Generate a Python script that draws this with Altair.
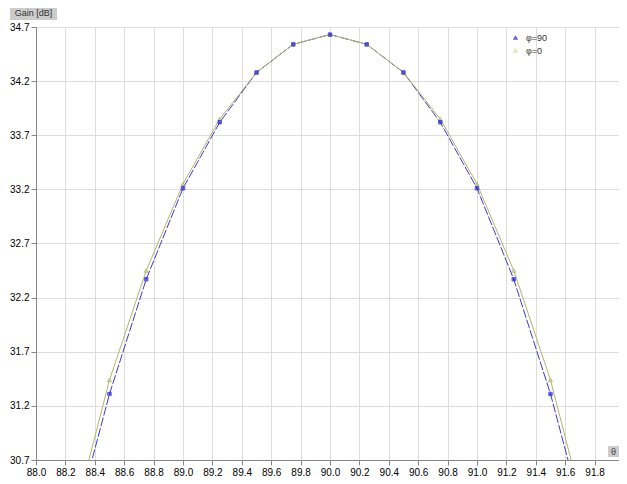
import altair as alt
import pandas as pd

angles = [88.25, 88.5, 88.75, 89.0, 89.25, 89.5, 89.75, 90.0, 90.25, 90.5, 90.75, 91.0, 91.25, 91.5, 91.75]
gain_phi90 = [30.03, 31.31, 32.37, 33.21, 33.82, 34.28, 34.54, 34.63, 34.54, 34.28, 33.82, 33.21, 32.37, 31.31, 30.03]
gain_phi0 = [30.12, 31.44, 32.45, 33.25, 33.85, 34.28, 34.54, 34.63, 34.54, 34.28, 33.85, 33.25, 32.45, 31.44, 30.12]
series_names = ["φ=90", "φ=0"]
x_ticks = [round(88.0 + 0.2 * i, 1) for i in range(21)]
y_ticks = [30.7, 31.2, 31.7, 32.2, 32.7, 33.2, 33.7, 34.2, 34.7]

rows = []
for a, g in zip(angles, gain_phi90):
    rows.append({"angle": a, "gain": g, "series": series_names[0]})
for a, g in zip(angles, gain_phi0):
    rows.append({"angle": a, "gain": g, "series": series_names[1]})
df = pd.DataFrame(rows)

W, H = 583, 433
BLUE_LINE, OLIVE_LINE = "#3a3ad0", "#b4b46a"
BLUE_PT, OLIVE_PT = "#2020d8", "#a8a860"

x = alt.X("angle:Q", scale=alt.Scale(domain=[88.0, 91.966], nice=False, zero=False),
          axis=alt.Axis(values=x_ticks, format=".1f", title=None, labelFlush=False))
y = alt.Y("gain:Q", scale=alt.Scale(domain=[30.7, 34.7], nice=False, zero=False),
          axis=alt.Axis(values=y_ticks, format=".1f", title=None))

base = alt.Chart(df)

line0 = base.transform_filter(alt.datum.series == series_names[1]).mark_line(
    clip=True, strokeWidth=1, color=OLIVE_LINE).encode(x=x, y=y)
line90 = base.transform_filter(alt.datum.series == series_names[0]).mark_line(
    clip=True, strokeWidth=1, color=BLUE_LINE, strokeDash=[9, 2]).encode(x=x, y=y)

fill_enc = alt.Fill("series:N", scale=alt.Scale(domain=series_names, range=[BLUE_PT, "#d6d68e"]),
                    legend=alt.Legend(title=None, orient="none", legendX=475, legendY=6,
                                      symbolType="triangle-up", symbolSize=30, symbolStrokeWidth=0,
                                      labelFontSize=9, labelFont="Liberation Sans", labelColor="#333",
                                      labelOffset=6, rowPadding=3))

pts0 = base.transform_filter(alt.datum.series == series_names[1]).mark_point(
    clip=True, filled=True, size=16, strokeWidth=1, stroke=OLIVE_PT, shape="triangle-up").encode(
    x=x, y=y, fill=fill_enc)
pts90 = base.transform_filter(alt.datum.series == series_names[0]).mark_point(
    clip=True, filled=True, size=12, strokeWidth=1, stroke=BLUE_PT, shape="square").encode(
    x=x, y=y, fill=fill_enc)

lab = pd.DataFrame({"t": ["Gain [dB]"]})
gain_box = alt.Chart(lab).mark_rect(color="#cccccc").encode(
    x=alt.value(-26), x2=alt.value(21), y=alt.value(-21), y2=alt.value(-7))
gain_text = alt.Chart(lab).mark_text(fontSize=9, font="Liberation Sans", color="#333",
                                     align="center", baseline="middle").encode(
    x=alt.value(-2.5), y=alt.value(-14), text="t:N")

th = pd.DataFrame({"t": ["θ"]})
th_box = alt.Chart(th).mark_rect(color="#cccccc").encode(
    x=alt.value(572), x2=alt.value(583), y=alt.value(419), y2=alt.value(430))
th_text = alt.Chart(th).mark_text(fontSize=9, font="Liberation Sans", color="#444",
                                  align="center", baseline="middle").encode(
    x=alt.value(577.5), y=alt.value(424.5), text="t:N")

chart = alt.layer(line90, line0, pts0, pts90, gain_box, gain_text, th_box, th_text).properties(
    width=W, height=H,
    autosize=alt.AutoSizeParams(type="none"),
    padding={"left": 28, "top": 19, "right": 0, "bottom": 16},
).configure_view(stroke=None).configure_axis(
    gridColor="#e4e4e4", gridWidth=1, domainColor="#555", tickColor="#555",
    tickSize=4, labelFontSize=9, labelFont="Liberation Sans", labelColor="#333",
    labelPadding=1,
).configure(background="white")

chart.save("out.html", embed_options={"renderer": "svg", "actions": False})
